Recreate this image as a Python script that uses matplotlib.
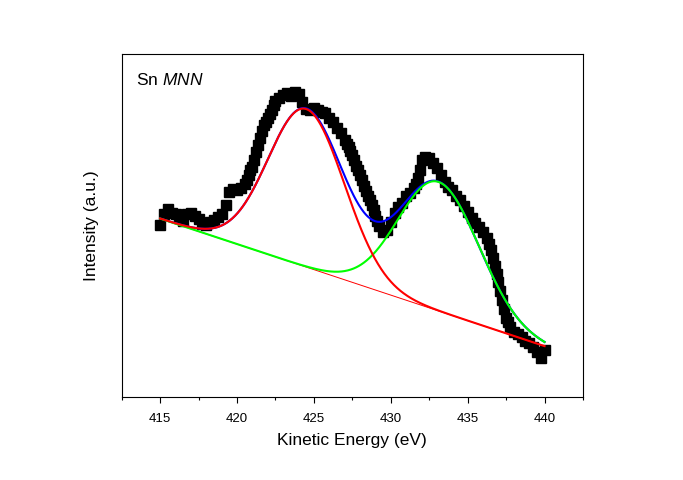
import numpy as np
import matplotlib
matplotlib.use("Agg")
import matplotlib.pyplot as plt
from matplotlib.ticker import MultipleLocator, NullLocator

plt.rcParams['font.family'] = ['Liberation Sans', 'DejaVu Sans']
plt.rcParams['mathtext.fontset'] = 'custom'
plt.rcParams['mathtext.rm'] = 'Liberation Sans'
plt.rcParams['mathtext.it'] = 'Liberation Sans:italic'

# Measured spectrum (kinetic energy in eV, intensity in arbitrary units)
energy = [415.00, 415.25, 415.50, 415.75, 416.00, 416.25, 416.50, 416.75, 417.00, 417.25,
          417.50, 417.75, 418.00, 418.25, 418.50, 418.75, 419.00, 419.25, 419.50, 419.75,
          420.00, 420.25, 420.50, 420.625, 420.75, 420.875, 421.00, 421.125, 421.25, 421.375,
          421.50, 421.625, 421.75, 421.875, 422.00, 422.125, 422.25, 422.375,
          422.50, 422.75, 423.00, 423.25, 423.50, 423.75, 424.00, 424.25, 424.50, 424.75,
          425.00, 425.25, 425.50, 425.75, 426.00, 426.25, 426.50, 426.75, 427.00, 427.125,
          427.25, 427.375, 427.50, 427.625, 427.75, 427.875, 428.00, 428.125, 428.25, 428.375,
          428.50, 428.625, 428.75, 428.875, 429.00, 429.125, 429.25, 429.50, 429.75,
          430.00, 430.25, 430.50, 430.75, 431.00, 431.25, 431.50, 431.625, 431.75, 431.875,
          432.00, 432.25, 432.50, 432.75, 433.00, 433.25, 433.50, 433.75, 434.00, 434.25,
          434.50, 434.75, 435.00, 435.25, 435.50, 435.75, 436.00, 436.25, 436.375, 436.50,
          436.625, 436.75, 436.875, 437.00, 437.125, 437.25, 437.375, 437.50, 437.625, 437.75,
          438.00, 438.25, 438.50, 438.75, 439.00, 439.25, 439.50, 439.75, 440.00]
intensity = [172, 183, 188, 184, 183, 179, 176, 183, 184, 181,
             178, 173, 172, 175, 177, 180, 183, 192, 205, 208,
             207, 209, 213, 217, 222, 227, 230, 237, 245, 252,
             259, 266, 272, 275, 279, 283, 287, 292,
             296, 299, 302, 304, 301, 305, 303, 295, 288, 287,
             289, 287, 285, 284, 279, 275, 269, 264, 257, 253,
             250, 246, 242, 237, 231, 227, 222, 217, 211, 206,
             201, 197, 192, 187, 181, 176, 171, 165, 167,
             175, 184, 190, 194, 201, 204, 209, 213, 219, 227,
             237, 240, 239, 234, 229, 222, 215, 210, 207, 201,
             197, 191, 185, 179, 174, 170, 165, 159, 153, 147,
             139, 131, 123, 115, 106, 97, 88, 79, 75, 70,
             65, 63, 60, 56, 54, 50, 45, 39, 47]

# Fit parameters: linear background (start, end) and two Gaussian peaks
bg_energy = [415.0, 440.0]
bg_level = [178.4, 50.9]
peak_center = [424.5, 433.1]
peak_height = [158.0, 129.0]
peak_sigma = [2.48, 2.63]

fig = plt.figure(figsize=(6.83, 4.80), dpi=100)
ax = fig.add_axes([0.1782, 0.1729, 0.6754, 0.7146])

e_fit = np.linspace(415.0, 440.0, 601)
background = np.interp(e_fit, bg_energy, bg_level)
p1 = peak_height[0] * np.exp(-0.5 * ((e_fit - peak_center[0]) / peak_sigma[0]) ** 2)
p2 = peak_height[1] * np.exp(-0.5 * ((e_fit - peak_center[1]) / peak_sigma[1]) ** 2)

ax.plot(energy, intensity, linestyle='none', marker='s', markersize=6.6,
        color='black', zorder=1)
ax.plot(e_fit, background, color='#ff0000', lw=0.7, zorder=2)
ax.plot(e_fit, background + p1 + p2, color='#0000ff', lw=1.5, zorder=3)
ax.plot(e_fit, background + p2, color='#00ff00', lw=1.5, zorder=4)
ax.plot(e_fit, background + p1, color='#ff0000', lw=1.5, zorder=5)

ax.set_xlim(412.5, 442.5)
ax.set_ylim(0, 343)
ax.xaxis.set_major_locator(MultipleLocator(5))
ax.xaxis.set_minor_locator(MultipleLocator(2.5))
ax.yaxis.set_major_locator(NullLocator())
ax.yaxis.set_minor_locator(NullLocator())
ax.tick_params(axis='x', which='major', direction='out', length=4.3, width=0.8,
               labelsize=9.5, pad=7)
ax.tick_params(axis='x', which='minor', direction='out', length=2.5, width=0.8)
for s in ax.spines.values():
    s.set_linewidth(0.8)

ax.set_xlabel('Kinetic Energy (eV)', fontsize=12.5, labelpad=6)
ax.set_ylabel('Intensity (a.u.)', fontsize=12.5, labelpad=16)

ax.annotate(r'Sn $\mathit{MNN}$', xy=(0, 1), xycoords='axes fraction',
            xytext=(10.5, -22.5), textcoords='offset points',
            fontsize=12.5, ha='left', va='baseline')

fig.savefig('out.png', dpi=100)
